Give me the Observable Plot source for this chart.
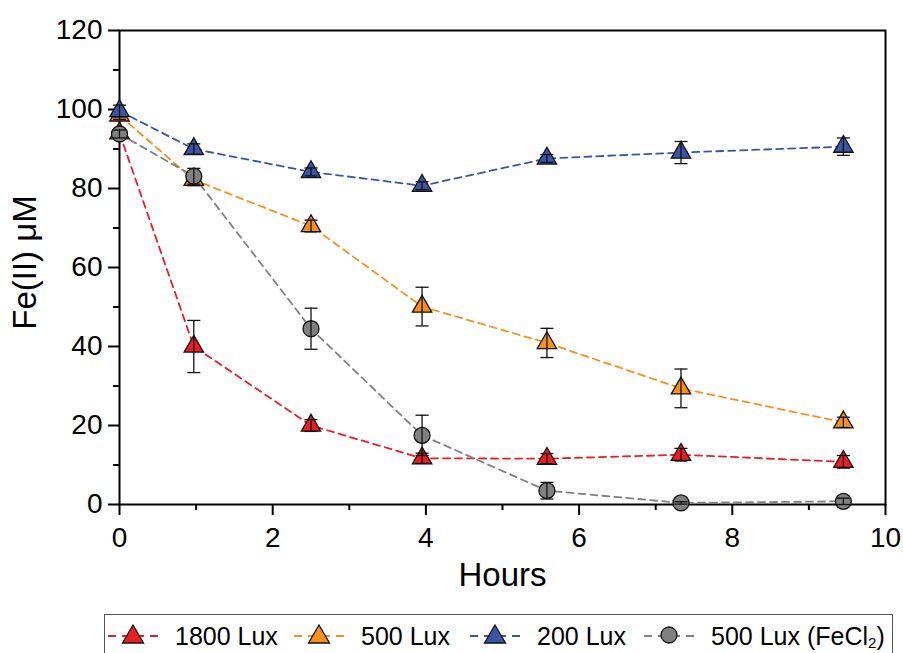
<!DOCTYPE html>
<html>
<head>
<meta charset="utf-8">
<script src="https://cdn.jsdelivr.net/npm/d3@7"></script>
<script src="https://cdn.jsdelivr.net/npm/@observablehq/plot@0.6"></script>
<style>
  body { margin: 0; background: #fff; font-family: "Liberation Sans", Arial, sans-serif; }
  #wrap { position: relative; width: 903px; height: 653px; overflow: hidden; }
  #legend { position: absolute; left: 104px; top: 614px; width: 789px; height: 44px; border: 1.5px solid #555; box-sizing: border-box; }
  .item { position: absolute; top: 0; height: 40px; }
  .item svg { position: absolute; top: 4px; }
  .item span { position: absolute; top: 7px; font-size: 25px; line-height: 28px; white-space: nowrap; color: #000; }
  .item sub { font-size: 15px; vertical-align: -3px; line-height: 0; }
</style>
</head>
<body>
<div id="wrap">
  <div id="chart"></div>
  <div id="legend"></div>
</div>
<script>
const hours = [0, 0.97, 2.5, 3.95, 5.58, 7.33, 9.45];
const seriesNames = ["1800 Lux", "500 Lux", "200 Lux", "500 Lux (FeCl2)"];
const seriesColors = ["#ec1c24", "#f7901e", "#3b55a5", "#808080"];
const lux1800 = [94, 40, 20, 11.7, 11.6, 12.6, 10.8];
const lux1800Err = [1, 6.6, 1.5, 1.3, 1.3, 1.6, 1.6];
const lux500 = [98.5, 82.2, 70.5, 50.1, 40.9, 29.4, 20.8];
const lux500Err = [1, 1.5, 1.5, 4.9, 3.7, 4.9, 1.3];
const lux200 = [99.6, 90, 84.2, 80.7, 87.6, 89.1, 90.6];
const lux200Err = [1.5, 1.3, 1, 1, 1, 2.8, 2.2];
const fecl2 = [93.8, 83.1, 44.5, 17.5, 3.5, 0.4, 0.8];
const fecl2Err = [1, 2, 5.2, 5.1, 2.1, 0.3, 0.8];
const xTicks = [0, 2, 4, 6, 8, 10];
const xMinor = [1, 3, 5, 7, 9];
const yTicks = [0, 20, 40, 60, 80, 100, 120];
const yMinor = [10, 30, 50, 70, 90, 110];

const values = [lux1800, lux500, lux200, fecl2];
const errs = [lux1800Err, lux500Err, lux200Err, fecl2Err];
const rows = [];
seriesNames.forEach((s, k) => hours.forEach((h, i) => rows.push({series: s, k, h, v: values[k][i], e: errs[k][i]})));

const capHalf = 0.085;
const marks = [
  Plot.frame({stroke: "black", strokeWidth: 2}),
  Plot.axisX({ticks: xTicks, tickSize: 11, tickPadding: 12, fontSize: 28, strokeWidth: 2, label: null}),
  Plot.axisX({ticks: xMinor, tickSize: 6, tickFormat: () => "", strokeWidth: 2, label: null}),
  Plot.axisY({ticks: yTicks, tickSize: 11, tickPadding: 6, fontSize: 28, strokeWidth: 2, label: null}),
  Plot.axisY({ticks: yMinor, tickSize: 6, tickFormat: () => "", strokeWidth: 2, label: null}),
  Plot.line(rows, {x: "h", y: "v", z: "series", stroke: d => seriesColors[d.k], strokeWidth: 1.8, strokeDasharray: "7,5"})
];
seriesNames.forEach((s, k) => {
  const data = rows.filter(d => d.k === k);
  marks.push(
    Plot.dot(data, {x: "h", y: "v", symbol: k === 3 ? "circle" : "triangle", r: k === 3 ? 8 : 7.2, fill: seriesColors[k], stroke: "#111", strokeWidth: 1.3}),
    Plot.ruleX(data, {x: "h", y1: d => d.v - d.e, y2: d => d.v + d.e, stroke: "#111", strokeWidth: 1.3}),
    Plot.link(data, {x1: d => d.h - capHalf, x2: d => d.h + capHalf, y1: d => d.v + d.e, y2: d => d.v + d.e, stroke: "#111", strokeWidth: 1.3}),
    Plot.link(data, {x1: d => d.h - capHalf, x2: d => d.h + capHalf, y1: d => d.v - d.e, y2: d => d.v - d.e, stroke: "#111", strokeWidth: 1.3})
  );
});
marks.push(
  Plot.text(["Hours"], {text: d => d, frameAnchor: "bottom", dy: 81, fontSize: 33, fill: "black"}),
  Plot.text(["Fe(II) μM"], {text: d => d, frameAnchor: "left", textAnchor: "middle", dx: -94, dy: -5, rotate: -90, fontSize: 33, fill: "black"})
);

const chart = Plot.plot({
  width: 903,
  height: 612,
  marginLeft: 119,
  marginRight: 18,
  marginTop: 30,
  marginBottom: 108,
  style: {fontFamily: "Liberation Sans, Arial, sans-serif", color: "black", background: "white", overflow: "visible"},
  x: {domain: [0, 10], axis: null},
  y: {domain: [0, 120], axis: null},
  marks
});
document.getElementById("chart").appendChild(chart);

// Legend
const legend = document.getElementById("legend");
const lineX = [3, 189, 365, 539];
const textX = [70, 256, 432, 606];
seriesNames.forEach((s, k) => {
  const it = document.createElement("div");
  it.className = "item";
  it.style.left = lineX[k] + "px";
  const symbol = k === 3
    ? `<circle cx="25" cy="16" r="8" fill="${seriesColors[k]}" stroke="#111" stroke-width="1.3"/>`
    : `<path d="M25,6 L35.5,24 L14.5,24 Z" fill="${seriesColors[k]}" stroke="#111" stroke-width="1.3"/>`;
  it.innerHTML = `<svg width="52" height="32"><line x1="0" x2="50" y1="17" y2="17" stroke="${seriesColors[k]}" stroke-width="2" stroke-dasharray="8,6"/>${symbol}</svg>`;
  legend.appendChild(it);
  const t = document.createElement("div");
  t.className = "item";
  t.style.left = textX[k] + "px";
  t.innerHTML = k === 3 ? `<span>500 Lux (FeCl<sub>2</sub>)</span>` : `<span>${s}</span>`;
  legend.appendChild(t);
});
</script>
</body>
</html>
